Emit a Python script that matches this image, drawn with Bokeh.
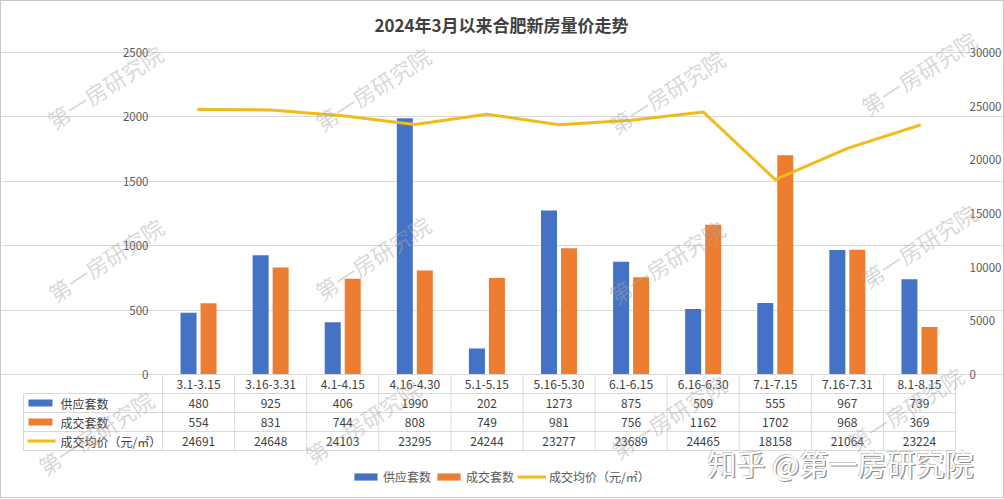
import math
from bokeh.plotting import figure
from bokeh.models import (ColumnDataSource, Range1d, LinearAxis, FixedTicker, Grid,
                          Label, Legend, LegendItem)
from bokeh.layouts import column
from bokeh.embed import file_html
from bokeh.resources import INLINE
from bokeh.core.properties import value
from bokeh.transform import dodge

# ---------------- data ----------------
title_text = "2024年3月以来合肥新房量价走势"
categories = ["3.1-3.15", "3.16-3.31", "4.1-4.15", "4.16-4.30", "5.1-5.15", "5.16-5.30",
              "6.1-6.15", "6.16-6.30", "7.1-7.15", "7.16-7.31", "8.1-8.15"]
supply = [480, 925, 406, 1990, 202, 1273, 875, 509, 555, 967, 739]
deal = [554, 831, 744, 808, 749, 981, 756, 1162, 1702, 968, 369]
price = [24691, 24648, 24103, 23295, 24244, 23277, 23689, 24465, 18158, 21064, 23224]
series_names = ["供应套数", "成交套数", "成交均价（元/㎡）"]
left_ticks = [0, 500, 1000, 1500, 2000, 2500]
right_ticks = [0, 5000, 10000, 15000, 20000, 25000, 30000]
watermark = "第一房研究院"
zhihu_mark = "知乎 @第一房研究院"

# ---------------- style / layout (page pixels) ----------------
FONT = "Noto Sans CJK SC"
BLUE, ORANGE, GOLD = "#4472C4", "#ED7D31", "#F2BB1A"
GRID = "#D9D9D9"
TXT = "#404040"
AXT = "#595959"

W, H = 1002, 496
ORIGIN = 1                      # border width (page has no margin)
PAGE_R, PAGE_B = ORIGIN + W, ORIGIN + H
FRAME_L, FRAME_R, FRAME_T, FRAME_B = 162, 955, 52, 374
ROW_PX = 19
TAB_L = 23
n = len(categories)
CAT_PX = (FRAME_R - FRAME_L) / n
BAR_OFF = 10 / CAT_PX
BAR_W = 16 / CAT_PX
LMAX, RMAX = left_ticks[-1], right_ticks[-1]


def px_x(px):
    return (px - FRAME_L) / CAT_PX


def a_y(py):
    return (FRAME_B - py) * LMAX / (FRAME_B - FRAME_T)


def t_y(py):
    return (py - FRAME_B) / ROW_PX


src = ColumnDataSource(dict(
    x=[i + 0.5 for i in range(n)], cat=categories,
    supply=supply, deal=deal, price=price,
    supply_s=[str(v) for v in supply], deal_s=[str(v) for v in deal],
    price_s=[str(v) for v in price],
))

p = figure(width=W, height=H,
           x_range=Range1d(px_x(ORIGIN), px_x(PAGE_R)),
           y_range=Range1d(a_y(PAGE_B), a_y(ORIGIN)),
           output_backend="svg", toolbar_location=None,
           x_axis_location=None, y_axis_location=None,
           min_border_left=0, min_border_right=0, min_border_top=0, min_border_bottom=0)
p.outline_line_color = None
p.grid.visible = False
p.background_fill_color = "white"
p.border_fill_color = "white"

p.extra_y_ranges = {
    "price": Range1d(a_y(PAGE_B) * RMAX / LMAX, a_y(ORIGIN) * RMAX / LMAX),
    "table": Range1d(t_y(PAGE_B), t_y(ORIGIN)),
}

# axes fixed at the plot-area edges
lax = LinearAxis(fixed_location=0, ticker=FixedTicker(ticks=left_ticks))
rax = LinearAxis(fixed_location=n, y_range_name="price", ticker=FixedTicker(ticks=right_ticks))
p.add_layout(lax, "left")
p.add_layout(rax, "right")
for ax in [lax, rax]:
    ax.axis_line_color = None
    ax.major_tick_line_color = None
    ax.minor_tick_line_color = None
    ax.major_label_text_color = AXT
    ax.major_label_text_font = FONT
    ax.major_label_text_font_size = "11.5px"
    ax.major_label_standoff = 8

p.add_layout(Grid(dimension=1, ticker=FixedTicker(ticks=left_ticks), bounds=(0, n),
                  grid_line_color=GRID))

WM_ANGLE = math.radians(33)
wm_pos = [(104, 86), (372, 88), (666, 91), (918, 72),
          (105, 259), (372, 257), (666, 261), (918, 245),
          (95, 432), (362, 421), (668, 416), (905, 408)]

# bars and line
p.vbar(x=dodge("x", -BAR_OFF, range=p.x_range), top="supply", width=BAR_W, source=src,
       fill_color=BLUE, line_color=None)
p.vbar(x=dodge("x", BAR_OFF, range=p.x_range), top="deal", width=BAR_W, source=src,
       fill_color=ORANGE, line_color=None)
p.line("x", "price", source=src, y_range_name="price", line_color=GOLD, line_width=3,
       line_join="round", line_cap="round")

# title
p.add_layout(Label(x=px_x(501), y=a_y(24), text=title_text, text_align="center",
                   text_baseline="middle", text_font=FONT, text_font_style="bold",
                   text_font_size="17px", text_color=TXT))

# ---------------- data table ----------------
xl = px_x(TAB_L)
x0s, y0s, x1s, y1s = [0], [0], [n], [0]
for r in range(1, 5):
    x0s.append(xl); y0s.append(r); x1s.append(n); y1s.append(r)
x0s.append(xl); y0s.append(1); x1s.append(xl); y1s.append(4)
for c in range(n + 1):
    x0s.append(c); y0s.append(0); x1s.append(c); y1s.append(4)
p.segment(x0=x0s, y0=y0s, x1=x1s, y1=y1s, y_range_name="table", line_color=GRID, line_width=1)

for row, col in enumerate(["cat", "supply_s", "deal_s", "price_s"]):
    p.text(x="x", y=row + 0.5, text=col, source=src, y_range_name="table",
           text_align="center", text_baseline="middle",
           text_font=value(FONT), text_font_size="12px", text_color=TXT)

r_blue = p.rect(x=px_x(40), y=1.5, width=24, height=7, width_units="screen", height_units="screen",
                y_range_name="table", fill_color=BLUE, line_color=None)
r_orange = p.rect(x=px_x(40), y=2.5, width=24, height=7, width_units="screen", height_units="screen",
                  y_range_name="table", fill_color=ORANGE, line_color=None)
r_gold = p.segment(x0=px_x(27), y0=3.5, x1=px_x(55), y1=3.5, y_range_name="table",
                   line_color=GOLD, line_width=3)
p.text(x=px_x(60), y=[1.5, 2.5, 3.5], text=series_names, y_range_name="table",
       text_align="left", text_baseline="middle",
       text_font=value(FONT), text_font_size="12px", text_color=TXT)

# ---------------- legend ----------------
legend = Legend(items=[LegendItem(label=series_names[0], renderers=[r_blue]),
                       LegendItem(label=series_names[1], renderers=[r_orange]),
                       LegendItem(label=series_names[2], renderers=[r_gold])],
                orientation="horizontal", location=(351 - ORIGIN, PAGE_B - 485),
                glyph_width=29, glyph_height=9, label_standoff=3, spacing=3,
                padding=0, margin=0, border_line_color=None, background_fill_alpha=0,
                label_text_font=FONT, label_text_font_size="12px", label_text_color=AXT,
                label_height=14)
p.add_layout(legend)

# ---------------- watermarks ----------------
for (px, py) in wm_pos:
    p.add_layout(Label(x=px_x(px), y=a_y(py), text=watermark, angle=WM_ANGLE,
                       text_align="center", text_baseline="middle", text_font=FONT,
                       text_font_size="22px", text_color="#A8A8A8", text_alpha=0.45))

for dx, dy, colr in [(1.2, -1.2, "#8C8C8C"), (-0.8, 0.8, "#C8C8C8"), (0, 0, "#FFFFFF")]:
    p.add_layout(Label(x=px_x(840), y=a_y(462), text=zhihu_mark, x_offset=dx, y_offset=dy,
                       text_align="center", text_baseline="middle", text_font=FONT,
                       text_font_size="29px", text_color=colr))

layout = column(p, spacing=0, styles={"border": "1px solid #C8C8C8"})
open("out.html", "w").write(file_html(layout, INLINE))
